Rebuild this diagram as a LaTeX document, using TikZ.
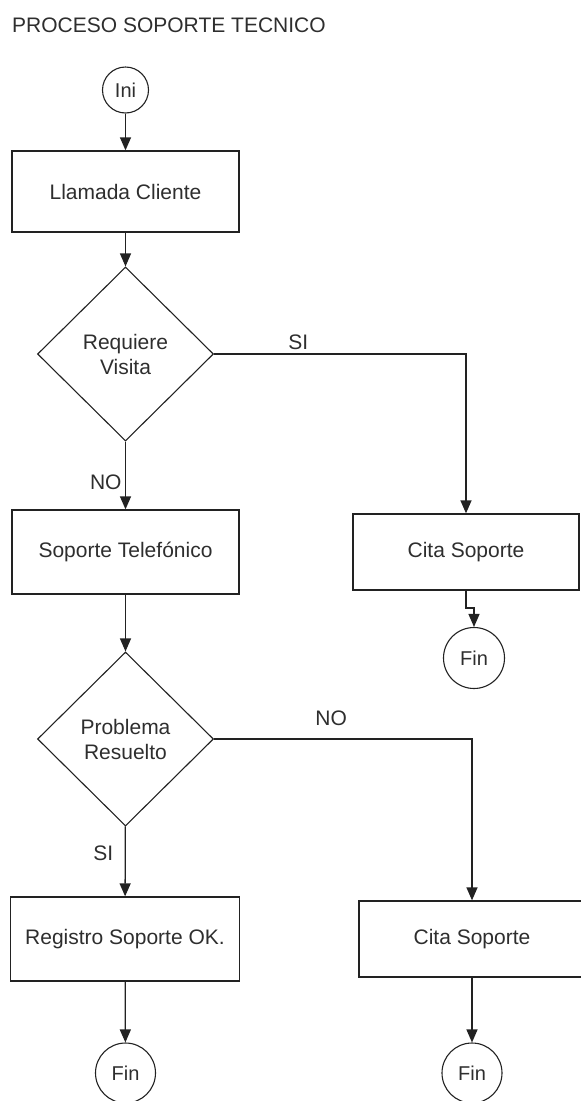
\documentclass[tikz,border=0pt]{standalone}
\usepackage{fontspec}
\setmainfont{Liberation Sans}
\usetikzlibrary{shapes.geometric,arrows.meta}
\definecolor{ink}{HTML}{222222}
\definecolor{txt}{HTML}{2E2E2E}
\begin{document}
\begin{tikzpicture}[x=1pt,y=-1pt,
  every node/.style={font=\fontsize{21}{25}\selectfont, text=txt},
  box/.style={draw=ink, line width=1.3pt, rectangle, minimum width=227pt,
              minimum height=82pt, inner sep=0pt},
  decision/.style={draw=ink, line width=1.1pt, diamond, minimum width=176pt,
                   minimum height=174pt, inner sep=0pt, align=center},
  term/.style={draw=ink, line width=1.1pt, circle, inner sep=0pt,
               font=\fontsize{20}{24}\selectfont},
  flow/.style={draw=ink, line width=1.3pt, -{Triangle[width=11pt,length=13pt]}},
  lbl/.style={font=\fontsize{21}{24}\selectfont}
]
\useasboundingbox (0,0) rectangle (581,1101);

% title
\node[anchor=base west, inner sep=0pt] (title) at (12,32) {PROCESO SOPORTE TECNICO};

% left column
\node[term, minimum size=46pt] (ini) at (125.5,90) {Ini};
\node[box, minimum height=81pt] (llamada) at (125.5,191.5) {Llamada Cliente};
\node[decision] (visita) at (125.5,354) {Requiere\\Visita};
\node[box, minimum height=84pt] (telefono) at (125.5,552) {Soporte Telefónico};
\node[decision] (resuelto) at (125.5,739) {Problema\\Resuelto};
\node[box, minimum width=229pt, minimum height=84pt] (registro) at (125,939) {Registro Soporte OK.};
\node[term, minimum size=60pt] (fin2) at (125.5,1073) {Fin};

% right column
\node[box, minimum width=226pt, minimum height=76pt] (cita1) at (466,552) {Cita Soporte};
\node[term, minimum size=61pt] (fin1) at (474,658) {Fin};
\node[box, minimum width=226pt, minimum height=76pt] (cita2) at (472,939) {Cita Soporte};
\node[term, minimum size=60pt] (fin3) at (472,1073) {Fin};

\coordinate (jog) at (474,608);

% connectors
\draw[flow] (ini) -- (llamada);
\draw[flow] (llamada) -- (visita);
\draw[flow] (visita) -- node[lbl, left, pos=0.6] {NO} (telefono);
\draw[flow] (visita.east) -| node[lbl, above, pos=0.167] {SI} (cita1.north);
\draw[flow] (cita1.south) |- (jog) -- (fin1.north);
\draw[flow] (telefono) -- (resuelto);
\draw[flow] (resuelto.east) -| node[lbl, above=9pt, pos=0.227] {NO} (cita2.north);
\draw[flow] (resuelto) -- node[lbl, left=8pt, pos=0.38] {SI} (registro);
\draw[flow] (registro) -- (fin2);
\draw[flow] (cita2) -- (fin3);
\end{tikzpicture}
\end{document}
